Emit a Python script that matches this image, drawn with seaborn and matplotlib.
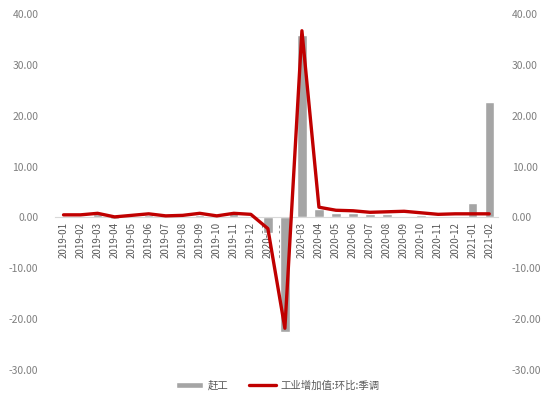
import numpy as np
import pandas as pd
import matplotlib
matplotlib.use('Agg')
import matplotlib.pyplot as plt
import seaborn as sns

sns.set_theme(style='white')
plt.rcParams['font.family'] = ['Noto Sans CJK SC', 'DejaVu Sans']

# ============================================================
# Data
# ============================================================
months = ['2019-01', '2019-02', '2019-03', '2019-04', '2019-05', '2019-06',
          '2019-07', '2019-08', '2019-09', '2019-10', '2019-11', '2019-12',
          '2020-01', '2020-02', '2020-03', '2020-04', '2020-05', '2020-06',
          '2020-07', '2020-08', '2020-09', '2020-10', '2020-11', '2020-12',
          '2021-01', '2021-02']
rush_work = [0.1, 0.1, 0.6, -0.3, 0.1, 0.5, 0.2, 0.2, 0.5, 0.1, 0.8, 0.2,
             -3.0, -22.5, 35.8, 1.6, 0.8, 0.8, 0.6, 0.6, 0.3, 0.5, -0.2, 0.1,
             2.9, 22.7]
ind_mom = [0.5, 0.5, 0.8, 0.1, 0.4, 0.7, 0.3, 0.4, 0.8, 0.3, 0.8, 0.6,
           -2.2, -21.8, 36.7, 2.0, 1.4, 1.3, 1.0, 1.1, 1.2, 0.9, 0.6, 0.7,
           0.7, 0.7]
y_ticks = [-30, -20, -10, 0, 10, 20, 30, 40]

bar_label = '赶工'
line_label = '工业增加值:环比:季调'

df = pd.DataFrame({'month': months, 'rush': rush_work, 'ind': ind_mom})

# ============================================================
# Plot
# ============================================================
fig = plt.figure(figsize=(5.5, 3.98), dpi=100)
ax = fig.add_axes([0.1, 0.0704, 0.805, 0.8946])

sns.barplot(data=df, x='month', y='rush', color='#A5A5A5', saturation=1,
            width=0.55, ax=ax, label=bar_label, zorder=2)
sns.lineplot(data=df, x='month', y='ind', color='#C00000', linewidth=2.4,
             ax=ax, label=line_label, sort=False, zorder=3)

ax.set_ylim(-30, 40)
ax.set_xlim(-0.5, len(months) - 0.5)
ax.set_yticks(y_ticks)
ax.set_yticklabels([f'{v:.2f}' for v in y_ticks])
ax.set_xlabel('')
ax.set_ylabel('')

for s in ['top', 'right', 'left']:
    ax.spines[s].set_visible(False)
ax.spines['bottom'].set_position(('data', 0))
ax.spines['bottom'].set_color('#D9D9D9')
ax.spines['bottom'].set_linewidth(0.8)

ax.tick_params(axis='x', rotation=90, length=0, pad=3, labelsize=7, labelcolor='#595959')
ax.tick_params(axis='y', length=0, pad=12, labelsize=7.5, labelcolor='#7F7F7F')

# right axis mirrors the left one
ax2 = ax.twinx()
ax2.set_ylim(ax.get_ylim())
ax2.set_yticks(y_ticks)
ax2.set_yticklabels([f'{v:.2f}' for v in y_ticks])
ax2.tick_params(axis='y', length=0, pad=10, labelsize=7.5, labelcolor='#7F7F7F')
for s in ax2.spines.values():
    s.set_visible(False)

# legend: bar first, then line
handles, labels = ax.get_legend_handles_labels()
order = [labels.index(bar_label), labels.index(line_label)]
ax.get_legend().remove()
fig.legend([handles[i] for i in order], [labels[i] for i in order],
           loc='lower center', bbox_to_anchor=(0.505, -0.005),
           ncol=2, frameon=False, fontsize=7.5, labelcolor='#595959',
           handlelength=2.6, handleheight=0.5, columnspacing=2.0, handletextpad=0.4)

fig.savefig('out.png', dpi=100)
